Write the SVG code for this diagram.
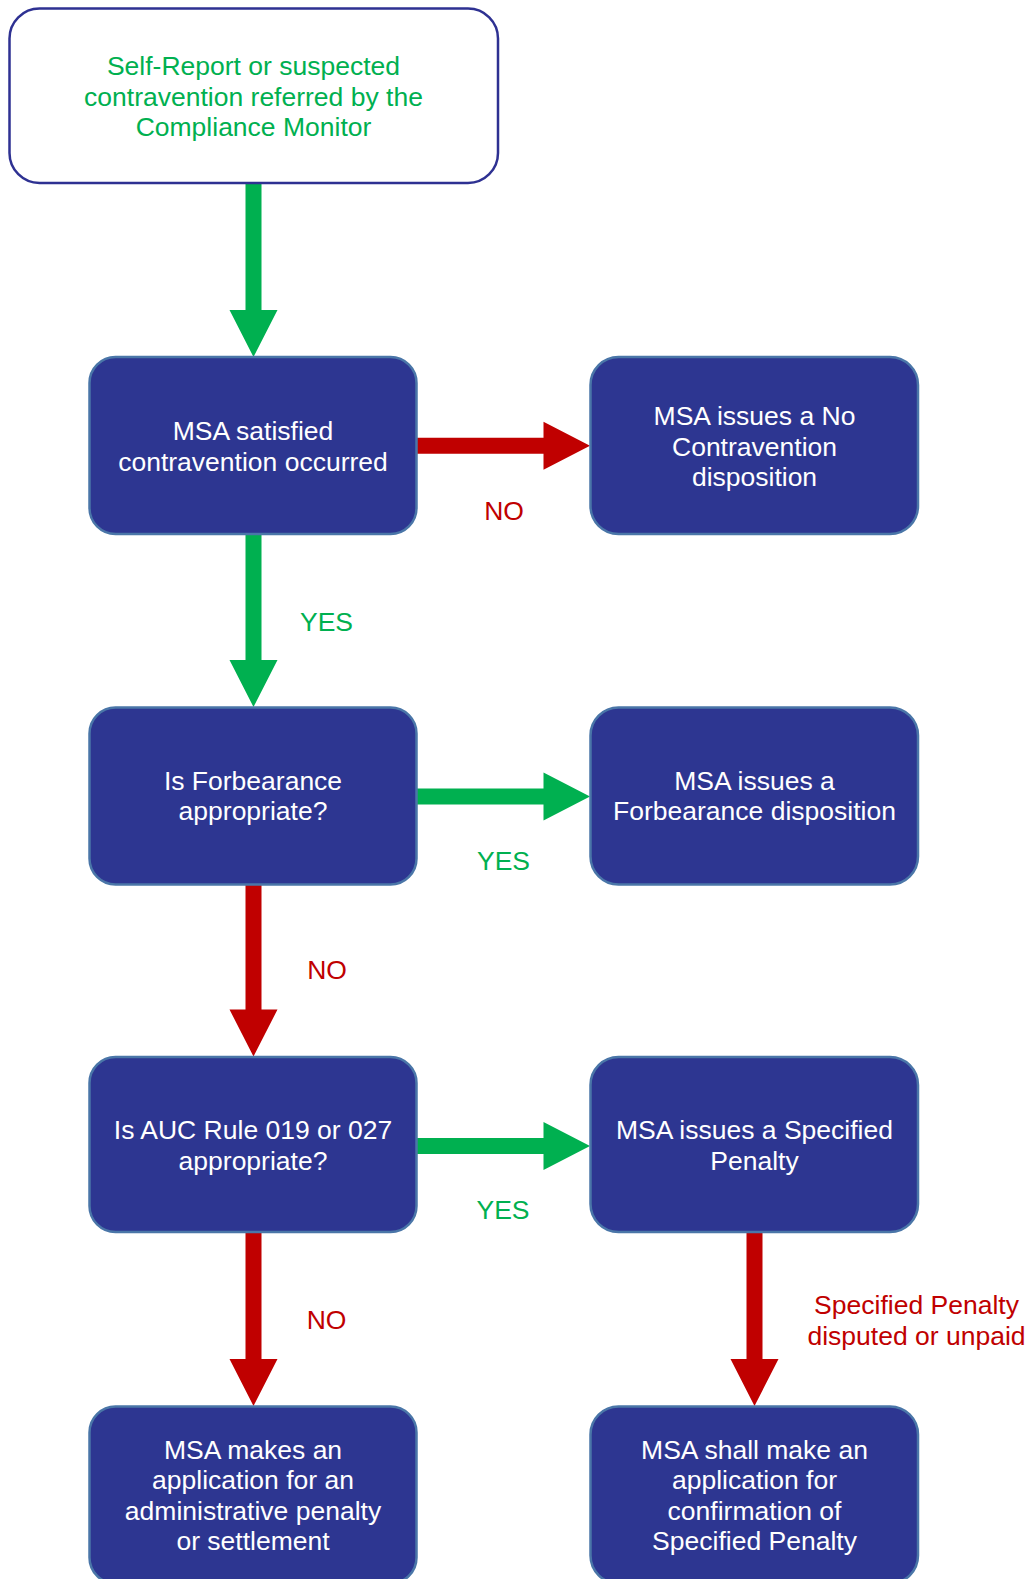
<svg xmlns="http://www.w3.org/2000/svg" width="1030" height="1579" viewBox="0 0 1030 1579">
<style>
.box{fill:#2d3691;stroke:#4a76a8;stroke-width:2.5}
.start{fill:#ffffff;stroke:#2e3192;stroke-width:2.5}
text{font-family:"Liberation Sans",Arial,sans-serif;font-size:26.5px;text-anchor:middle}
.w{fill:#ffffff}
.g{fill:#00b050}
.r{fill:#c00000}
.ag{fill:#00b050}
.ar{fill:#c00000}
</style>
<rect width="1030" height="1579" fill="#ffffff"/>
<g id="connectors">
  <path class="ag" d="M245.5,183 H261.5 V310 H277.5 L253.5,357 L229.5,310 H245.5 Z"/>
  <path class="ag" d="M245.5,534 H261.5 V660 H277.5 L253.5,707 L229.5,660 H245.5 Z"/>
  <path class="ar" d="M245.5,884 H261.5 V1009.5 H277.5 L253.5,1056.5 L229.5,1009.5 H245.5 Z"/>
  <path class="ar" d="M245.5,1232 H261.5 V1359 H277.5 L253.5,1406 L229.5,1359 H245.5 Z"/>
  <path class="ar" d="M746.5,1232 H762.5 V1359 H778.5 L754.5,1406 L730.5,1359 H746.5 Z"/>
  <path class="ar" d="M416.5,437.8 H543.5 V421.8 L590,445.8 L543.5,469.8 V453.8 H416.5 Z"/>
  <path class="ag" d="M416.5,788.5 H543.5 V772.5 L590,796.5 L543.5,820.5 V804.5 H416.5 Z"/>
  <path class="ag" d="M416.5,1138 H543.5 V1122 L590,1146 L543.5,1170 V1154 H416.5 Z"/>
  <text class="r" x="504" y="520">NO</text>
  <text class="g" x="326.5" y="630.5">YES</text>
  <text class="g" x="503.5" y="870">YES</text>
  <text class="r" x="327" y="979">NO</text>
  <text class="g" x="503" y="1219">YES</text>
  <text class="r" x="326.5" y="1328.5">NO</text>
  <text class="r" x="916.5" y="1314">Specified Penalty</text>
  <text class="r" x="916.5" y="1344.5">disputed or unpaid</text>
</g>
<g id="n-start">
  <rect class="start" x="9.5" y="8.5" width="488.5" height="174.5" rx="30" ry="30"/>
  <text class="g" x="253.5" y="75">Self-Report or suspected</text>
  <text class="g" x="253.5" y="105.5">contravention referred by the</text>
  <text class="g" x="253.5" y="136">Compliance Monitor</text>
</g>
<g id="n-satisfied">
  <rect class="box" x="89.5" y="357" width="327" height="177" rx="26" ry="26"/>
  <text class="w" x="253" y="440">MSA satisfied</text>
  <text class="w" x="253" y="470.5">contravention occurred</text>
</g>
<g id="n-nocontravention">
  <rect class="box" x="590.5" y="357" width="327.5" height="177" rx="28" ry="28"/>
  <text class="w" x="754.5" y="425">MSA issues a No</text>
  <text class="w" x="754.5" y="455.5">Contravention</text>
  <text class="w" x="754.5" y="486">disposition</text>
</g>
<g id="n-forbearance-q">
  <rect class="box" x="89.5" y="707.5" width="327" height="177" rx="26" ry="26"/>
  <text class="w" x="253" y="789.5">Is Forbearance</text>
  <text class="w" x="253" y="820">appropriate?</text>
</g>
<g id="n-forbearance">
  <rect class="box" x="590.5" y="707.5" width="327.5" height="177" rx="28" ry="28"/>
  <text class="w" x="754.5" y="789.5">MSA issues a</text>
  <text class="w" x="754.5" y="820">Forbearance disposition</text>
</g>
<g id="n-auc-q">
  <rect class="box" x="89.5" y="1057" width="327" height="175" rx="26" ry="26"/>
  <text class="w" x="253" y="1139">Is AUC Rule 019 or 027</text>
  <text class="w" x="253" y="1169.5">appropriate?</text>
</g>
<g id="n-specified">
  <rect class="box" x="590.5" y="1057" width="327.5" height="175" rx="28" ry="28"/>
  <text class="w" x="754.5" y="1139">MSA issues a Specified</text>
  <text class="w" x="754.5" y="1169.5">Penalty</text>
</g>
<g id="n-admin">
  <rect class="box" x="89.5" y="1406.5" width="327" height="177" rx="26" ry="26"/>
  <text class="w" x="253" y="1458.5">MSA makes an</text>
  <text class="w" x="253" y="1489">application for an</text>
  <text class="w" x="253" y="1519.5">administrative penalty</text>
  <text class="w" x="253" y="1550">or settlement</text>
</g>
<g id="n-confirm">
  <rect class="box" x="590.5" y="1406.5" width="327.5" height="177" rx="28" ry="28"/>
  <text class="w" x="754.5" y="1458.5">MSA shall make an</text>
  <text class="w" x="754.5" y="1489">application for</text>
  <text class="w" x="754.5" y="1519.5">confirmation of</text>
  <text class="w" x="754.5" y="1550">Specified Penalty</text>
</g>
</svg>
